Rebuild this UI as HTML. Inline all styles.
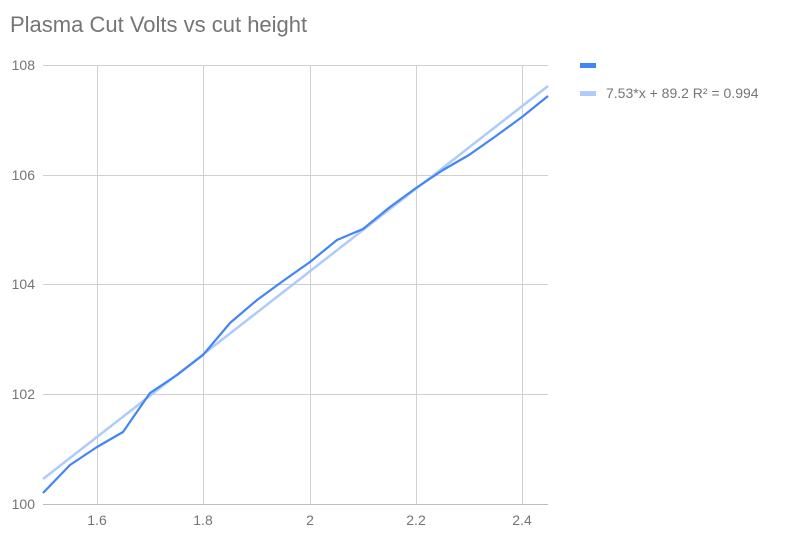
<!DOCTYPE html>
<html><head><meta charset="utf-8"><style>body{margin:0;background:#fff}svg{display:block}</style></head><body>
<svg width="787" height="543" xmlns="http://www.w3.org/2000/svg" font-family="Liberation Sans, Roboto, sans-serif">
<rect width="787" height="543" fill="#fff"/>
<text x="10" y="32" font-size="22" fill="#757575">Plasma Cut Volts vs cut height</text>
<g stroke="#d0d0d0" stroke-width="1">
<line x1="43" y1="65.5" x2="548" y2="65.5"/>
<line x1="43" y1="175.5" x2="548" y2="175.5"/>
<line x1="43" y1="284.5" x2="548" y2="284.5"/>
<line x1="43" y1="394.5" x2="548" y2="394.5"/>
<line x1="97.5" y1="65" x2="97.5" y2="504"/>
<line x1="203.5" y1="65" x2="203.5" y2="504"/>
<line x1="310.5" y1="65" x2="310.5" y2="504"/>
<line x1="416.5" y1="65" x2="416.5" y2="504"/>
<line x1="522.5" y1="65" x2="522.5" y2="504"/>
</g>
<line x1="43" y1="504.5" x2="548" y2="504.5" stroke="#bdbdbd" stroke-width="1"/>
<g font-size="14" fill="#757575" text-anchor="end">
<text x="35" y="70">108</text><text x="35" y="180">106</text><text x="35" y="289">104</text><text x="35" y="399">102</text><text x="35" y="509">100</text>
</g>
<g font-size="14" fill="#757575" text-anchor="middle">
<text x="97" y="525">1.6</text><text x="203" y="525">1.8</text><text x="310" y="525">2</text><text x="416" y="525">2.2</text><text x="522" y="525">2.4</text>
</g>
<line x1="43" y1="479" x2="548" y2="86" stroke="#aecbfa" stroke-width="2.5"/>
<polyline fill="none" stroke="#4285f4" stroke-width="2.2" stroke-linejoin="round" points="43,493 70,465 97,447 123,432 150,393 177,375 203,355 230,323 257,300 283,281 310,262 337,240 363,229 390,207 416,188 443,170 469,155 496,136 522,117 548,96"/>
<rect x="580" y="63" width="16" height="5" fill="#4285f4"/>
<rect x="580" y="91" width="16" height="5" fill="#aecbfa"/>
<text x="606" y="98" font-size="14" fill="#757575">7.53*x + 89.2 R² = 0.994</text>
</svg>
</body></html>
